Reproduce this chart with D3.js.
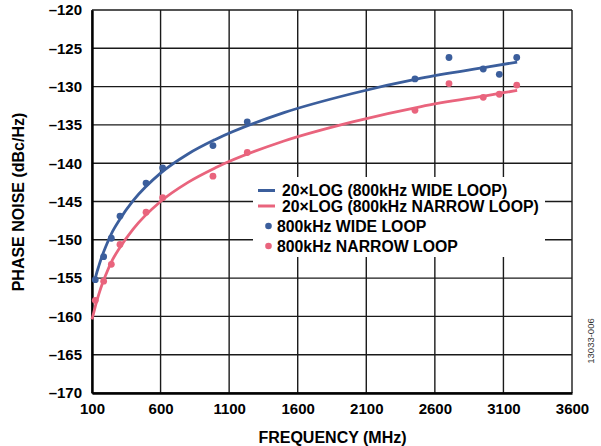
<!DOCTYPE html>
<html><head><meta charset="utf-8">
<script src="https://cdn.jsdelivr.net/npm/d3@7"></script>
<style>body{margin:0;background:#fff}svg{display:block}text{font-family:"Liberation Sans",Arial,sans-serif}</style>
</head><body><svg id="c" width="601" height="446"></svg>
<script>
const xTicks = [100,600,1100,1600,2100,2600,3100,3600];
const yTicks = [-120,-125,-130,-135,-140,-145,-150,-155,-160,-165,-170];
const dotFreq = [124,185,241,304,494,615,982,1232,2455,2703,2953,3070,3197];
const wideLoop = [-155.2,-152.2,-149.8,-146.9,-142.6,-140.6,-137.7,-134.6,-129.0,-126.2,-127.7,-128.4,-126.2];
const narrowLoop = [-157.9,-155.4,-153.2,-150.6,-146.4,-144.5,-141.7,-138.6,-133.1,-129.6,-131.4,-131.0,-129.8];
const wideFitFreq = [120,130,150,170,200,250,300,400,600,800,1000,1500,2000,2500,3000,3200];
const wideFit = [-155.3,-154.6,-153.4,-152.3,-150.9,-148.9,-147.4,-144.9,-141.3,-138.8,-136.9,-133.4,-130.9,-128.9,-127.4,-126.8];
const narrowFitFreq = [100,110,130,150,170,200,250,300,400,600,800,1000,1500,2000,2500,3000,3200];
const narrowFit = [-160.4,-159.7,-158.3,-157.1,-156.0,-154.6,-152.6,-151.1,-148.6,-145.0,-142.5,-140.6,-137.1,-134.6,-132.6,-131.1,-130.5];
const legendLabels = ["20×LOG (800kHz WIDE LOOP)","20×LOG (800kHz NARROW LOOP)","800kHz WIDE LOOP","800kHz NARROW LOOP"];
const blue = "#3b5e9c", pink = "#e9647d";

const svg = d3.select("#c");
const x = d3.scaleLinear().domain([100,3600]).range([92,572]);
const y = d3.scaleLinear().domain([-170,-120]).range([393,10]);

// grid
const g = svg.append("g");
g.selectAll(".vg").data(xTicks).join("line")
  .attr("x1",d=>x(d)).attr("x2",d=>x(d)).attr("y1",y(-120)).attr("y2",y(-170))
  .attr("stroke","#1a1a1a").attr("stroke-width",1.4);
g.selectAll(".hg").data(yTicks).join("line")
  .attr("x1",x(100)).attr("x2",x(3600)).attr("y1",d=>y(d)).attr("y2",d=>y(d))
  .attr("stroke","#1a1a1a").attr("stroke-width",1.4);

// axes (thick left/bottom) with labels
const xAxis = d3.axisBottom(x).tickValues(xTicks).tickSize(0).tickPadding(10).tickFormat(d3.format("d"));
const yAxis = d3.axisLeft(y).tickValues(yTicks).tickSize(0).tickPadding(10).tickFormat(d=>"–"+Math.abs(d));
const gx = svg.append("g").attr("transform",`translate(0,${y(-170)})`).call(xAxis);
const gy = svg.append("g").attr("transform",`translate(${x(100)},0)`).call(yAxis);
[gx,gy].forEach(a=>{
  a.select(".domain").attr("stroke","#000").attr("stroke-width",2.4);
  a.selectAll("text").attr("font-size",15).attr("font-weight","bold").attr("fill","#000")
   .attr("font-family","'Liberation Sans',Arial,sans-serif");
});

// curves
const line = d3.line().x(d=>x(d[0])).y(d=>y(d[1])).curve(d3.curveMonotoneX);
svg.append("path").datum(narrowFitFreq.map((f,i)=>[f,narrowFit[i]]))
  .attr("d",line).attr("fill","none").attr("stroke",pink).attr("stroke-width",2.8);
svg.append("path").datum(wideFitFreq.map((f,i)=>[f,wideFit[i]]))
  .attr("d",line).attr("fill","none").attr("stroke",blue).attr("stroke-width",2.8);

// dots
svg.append("g").selectAll("circle").data(dotFreq.map((f,i)=>[f,narrowLoop[i]])).join("circle")
  .attr("cx",d=>x(d[0])).attr("cy",d=>y(d[1])).attr("r",3.4).attr("fill",pink);
svg.append("g").selectAll("circle").data(dotFreq.map((f,i)=>[f,wideLoop[i]])).join("circle")
  .attr("cx",d=>x(d[0])).attr("cy",d=>y(d[1])).attr("r",3.4).attr("fill",blue);

// legend
const lg = svg.append("g");
lg.append("rect").attr("x",253).attr("y",177).attr("width",292).attr("height",80).attr("fill","#fff");
const ly = [190.5,206,226,246];
const lcol = [blue,pink,blue,pink];
[0,1].forEach(i=>{
  lg.append("line").attr("x1",258).attr("x2",275).attr("y1",ly[i]).attr("y2",ly[i])
    .attr("stroke",lcol[i]).attr("stroke-width",3);
  lg.append("text").attr("x",282).attr("y",ly[i]+5.5).text(legendLabels[i]);
});
[2,3].forEach(i=>{
  lg.append("circle").attr("cx",268.5).attr("cy",ly[i]).attr("r",3.3).attr("fill",lcol[i]);
  lg.append("text").attr("x",277).attr("y",ly[i]+5.5).text(legendLabels[i]);
});
lg.selectAll("text").attr("font-size",15.8).attr("font-weight","bold").attr("fill","#000");

// titles
svg.append("text").attr("x",332.5).attr("y",443).attr("text-anchor","middle")
  .attr("font-size",16).attr("font-weight","bold").text("FREQUENCY (MHz)");
svg.append("text").attr("transform","translate(24,202) rotate(-90)").attr("text-anchor","middle")
  .attr("font-size",16).attr("font-weight","bold").text("PHASE NOISE (dBc/Hz)");
svg.append("text").attr("transform","translate(594,341) rotate(-90)").attr("text-anchor","middle")
  .attr("font-size",9.5).attr("fill","#333").text("13033-006");
</script></body></html>
